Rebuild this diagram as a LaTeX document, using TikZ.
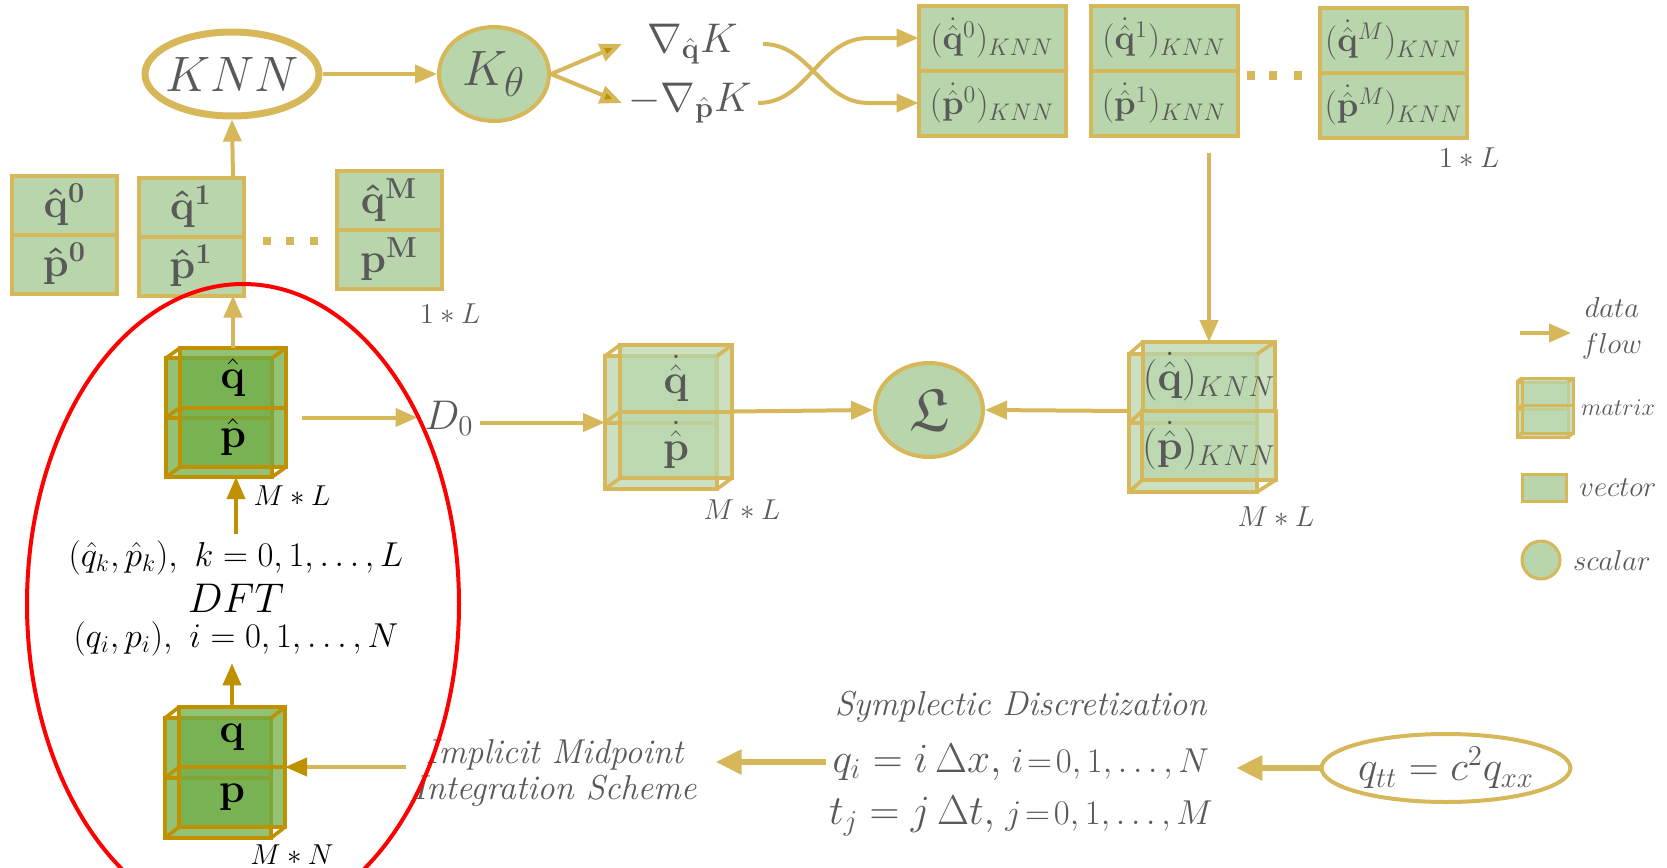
\documentclass[tikz,border=0pt]{standalone}
\usepackage{amsmath}
\usepackage{amssymb}
\usepackage{tikz}
\usetikzlibrary{arrows.meta, positioning, shapes.geometric}

\definecolor{linegold}{RGB}{214,183,90}
\definecolor{darkgold}{RGB}{191,144,0}
\definecolor{boxgreen}{RGB}{184,213,171}
\definecolor{matgreen}{RGB}{112,173,71}
\definecolor{textgray}{RGB}{89,89,89}

\begin{document}
\begin{tikzpicture}[x=0.5pt, y=-0.5pt, >={Triangle[length=11pt, width=9pt]},
  vec/.style={draw=linegold, fill=boxgreen, line width=2pt, inner sep=0pt, outer sep=0pt, text=textgray},
  kvec/.style={vec, minimum width=73.5pt, minimum height=32.5pt, font=\LARGE},
  hvec/.style={vec, minimum width=52.5pt, minimum height=29.5pt, font=\huge},
  lmat/.style={draw=linegold, fill=boxgreen, fill opacity=0.75, text opacity=1, line width=2pt, inner sep=0pt, outer sep=0pt, text=textgray, font=\huge},
  dmat/.style={draw=darkgold, fill=matgreen, fill opacity=0.75, text opacity=1, line width=2pt, inner sep=0pt, outer sep=0pt, font=\huge},
  scalar/.style={ellipse, draw=linegold, fill=boxgreen, line width=2pt, inner sep=0pt, text=textgray, font=\huge},
  flow/.style={->, draw=linegold, line width=2pt},
  dflow/.style={->, draw=darkgold, line width=2pt},
  lbl/.style={text=textgray, font=\Large},
  bigtxt/.style={text=textgray, font=\LARGE}]
\useasboundingbox (0,0) rectangle (1667,868);
\clip (0,0) rectangle (1667,868);

\node[ellipse, draw=linegold, line width=3.5pt, inner xsep=-8pt, inner ysep=0pt, minimum width=87pt, minimum height=42pt, text=textgray, font={\fontsize{32}{38}\selectfont}] (knn) at (232,74) {$KNN$};
\node[scalar, minimum width=55pt, minimum height=47pt, font=\Huge] (kt) at (494,74) {$K_\theta$};
\node[anchor=west, inner xsep=12.5pt, text=textgray, font=\huge] (gq) at (622,44) {$\nabla_{\hat{\mathbf{q}}}K$};
\node[anchor=west, inner xsep=3pt, text=textgray, font=\huge] (gp) at (622,103) {$-\nabla_{\hat{\mathbf{p}}}K$};

\node[kvec] (qd0) at (992,38) {$(\dot{\hat{\mathbf{q}}}^{0})_{KNN}$};
\node[kvec, below=0pt of qd0] (pd0) {$(\dot{\hat{\mathbf{p}}}^{0})_{KNN}$};
\node[kvec] (qd1) at (1164,38) {$(\dot{\hat{\mathbf{q}}}^{1})_{KNN}$};
\node[kvec, below=0pt of qd1] (pd1) {$(\dot{\hat{\mathbf{p}}}^{1})_{KNN}$};
\node[kvec] (qdM) at (1393.5,40) {$(\dot{\hat{\mathbf{q}}}^{M})_{KNN}$};
\node[kvec, below=0pt of qdM] (pdM) {$(\dot{\hat{\mathbf{p}}}^{M})_{KNN}$};
\foreach \x in {1251,1273,1298} \fill[linegold] (\x-4,71) rectangle (\x+4,80);
\node[lbl] (top1L) at (1469,158) {$1*L$};

\node[hvec] (qh0) at (64.5,205) {$\mathbf{\hat{q}^{0}}$};
\node[hvec, below=0pt of qh0] (ph0) {$\mathbf{\hat{p}^{0}}$};
\node[hvec] (qh1) at (191,207) {$\mathbf{\hat{q}^{1}}$};
\node[hvec, below=0pt of qh1] (ph1) {$\mathbf{\hat{p}^{1}}$};
\node[hvec] (qhM) at (389,200.5) {$\mathbf{\hat{q}^{M}}$};
\node[hvec, below=0pt of qhM] (phM) {$\mathbf{p^{M}}$};
\foreach \x in {267,290,314} \fill[linegold] (\x-4,237) rectangle (\x+4,245);
\node[lbl] (left1L) at (450,314) {$1*L$};

\node[dmat, minimum width=53pt, minimum height=29.75pt] (qhb1) at (219,387.75) {};
\node[dmat, minimum width=53pt, minimum height=29.75pt, below=0pt of qhb1] (qhb2) {};
\node[dmat, minimum width=53pt, minimum height=29.75pt] (qhf1) at (233,377.75) {$\hat{\mathbf{q}}$};
\node[dmat, minimum width=53pt, minimum height=29.75pt, below=0pt of qhf1] (qhf2) {$\hat{\mathbf{p}}$};
\node[font=\Large] (qhsize) at (292,496) {$M*L$};

\node[font={\fontsize{18.5}{22}\selectfont}] (dftk) at (236,558) {$(\hat{q}_k,\hat{p}_k),\ k=0,1,\ldots,L$};
\node[font=\huge] (dft) at (236,598) {$DFT$};
\node[font={\fontsize{18.5}{22}\selectfont}] (dfti) at (236,639) {$(q_i,p_i),\ i=0,1,\ldots,N$};

\node[dmat, minimum width=53pt, minimum height=30pt] (qb1) at (218,748) {};
\node[dmat, minimum width=53pt, minimum height=30pt, below=0pt of qb1] (qb2) {};
\node[dmat, minimum width=53pt, minimum height=30pt] (qf1) at (232,737) {$\mathbf{q}$};
\node[dmat, minimum width=53pt, minimum height=30pt, below=0pt of qf1] (qf2) {$\mathbf{p}$};
\node[font=\Large] (qsize) at (292,855) {$M*N$};

\node[text=textgray, font=\huge] (d0) at (449,418) {$D_0$};

\node[lmat, minimum width=56pt, minimum height=33.25pt] (qdb1) at (661,389.25) {};
\node[lmat, minimum width=56pt, minimum height=33.25pt, below=0pt of qdb1] (qdb2) {};
\node[lmat, minimum width=56pt, minimum height=33.25pt] (qdf1) at (676,378.25) {$\dot{\hat{\mathbf{q}}}$};
\node[lmat, minimum width=56pt, minimum height=33.25pt, below=0pt of qdf1] (qdf2) {$\dot{\hat{\mathbf{p}}}$};
\node[lbl] (qdsize) at (742,510) {$M*L$};

\node[scalar, minimum width=54pt, minimum height=47pt, font={\fontsize{30}{36}\selectfont}] (loss) at (929,410) {$\mathfrak{L}$};

\node[lmat, minimum width=64pt, minimum height=34.5pt] (kdb1) at (1193,388.5) {};
\node[lmat, minimum width=64pt, minimum height=34.5pt, below=0pt of kdb1] (kdb2) {};
\node[lmat, minimum width=64pt, minimum height=34.5pt] (kdf1) at (1209,376.5) {$(\dot{\hat{\mathbf{q}}})_{KNN}$};
\node[lmat, minimum width=64pt, minimum height=34.5pt, below=0pt of kdf1] (kdf2) {$(\dot{\hat{\mathbf{p}}})_{KNN}$};
\node[lbl] (kdsize) at (1276,517) {$M*L$};

\node[bigtxt, align=center] (imp) at (555,773) {\textit{Implicit Midpoint}\\[-4pt]\textit{Integration Scheme}};
\node[bigtxt] (symp) at (1021,707) {\textit{Symplectic Discretization}};
\node[bigtxt] (qi) at (1021,762) {{\huge$q_i=i\,\Delta x,$}\ $i\!=\!0,1,\ldots,N$};
\node[bigtxt] (tj) at (1021,816) {{\huge$t_j=j\,\Delta t,$}\ $j\!=\!0,1,\ldots,M$};
\node[ellipse, draw=linegold, line width=2pt, minimum width=117pt, minimum height=34pt, inner sep=0pt, text=textgray, font=\huge] (eq) at (1446,768) {$q_{tt}=c^2q_{xx}$};

\coordinate (la) at (1520,333);
\coordinate (lb) at (1571,333);
\node[lbl, align=center] (ldata) at (1612,328) {$data$\\$flow$};
\node[lmat, line width=1.5pt, minimum width=25.5pt, minimum height=13.75pt] (lmb1) at (1542.5,395.75) {};
\node[lmat, line width=1.5pt, minimum width=25.5pt, minimum height=13.75pt, below=0pt of lmb1] (lmb2) {};
\node[lmat, line width=1.5pt, minimum width=25.5pt, minimum height=13.75pt] (lmf1) at (1547.5,391.75) {};
\node[lmat, line width=1.5pt, minimum width=25.5pt, minimum height=13.75pt, below=0pt of lmf1] (lmf2) {};
\node[lbl, font=\large] (lmat) at (1618,408) {$matrix$};
\node[vec, line width=1.5pt, minimum width=22pt, minimum height=13.5pt] (lvec) at (1544,488) {};
\node[lbl] (lvectxt) at (1618,488) {$vector$};
\node[scalar, line width=1.5pt, minimum size=19pt] (lsc) at (1541,560) {};
\node[lbl] (lsctxt) at (1612,560) {$scalar$};

\foreach \m/\c in {qh/darkgold, q/darkgold, qd/linegold, kd/linegold, lm/linegold}
  \draw[\c, line width=1.8pt] (\m b1.north west) -- (\m f1.north west) (\m b2.north west) -- (\m f2.north west)
    (\m b2.south west) -- (\m f2.south west) (\m b1.north east) -- (\m f1.north east) (\m b2.south east) -- (\m f2.south east);

\draw[flow] (knn.east) -- (kt.west);
\draw[flow, -{Triangle[length=11pt, width=9pt, fill=darkgold]}] (kt.east) -- (gq.west);
\draw[flow, -{Triangle[length=11pt, width=9pt, fill=darkgold]}] (kt.east) -- (gp.west);
\draw[flow] (gq.east) to[out=0, in=180] ([xshift=-25pt]pd0.west) -- (pd0.west);
\draw[flow] (gp.east) to[out=0, in=180] ([xshift=-25pt]qd0.west) -- (qd0.west);
\draw[flow] ([yshift=-8.5pt]kdf1.north |- pd1.south) -- (kdf1.north);
\draw[flow] (qhf1.north |- qh1.north) -- (knn.south);
\draw[flow] (qhf1.north) -- (qhf1.north |- ph1.south);
\draw[dflow] (dftk.north) -- (qhb2.south -| dftk.north);
\draw[dflow] (qf1.north) -- (qf1.north |- dfti.south);
\draw[flow, -{Triangle[length=11pt, width=9pt, color=darkgold]}] (imp.west |- qf1.south east) -- (qf1.south east);
\draw[flow, line width=3pt, shorten >=6pt, -{Triangle[length=13pt, width=12pt]}] (qi.west) -- (qi.west -| imp.east);
\draw[flow, line width=3pt, shorten >=10pt, -{Triangle[length=13pt, width=12pt]}] (eq.west) -- (eq.west -| qi.east);
\draw[flow] ([xshift=8pt]qhf2.east |- qhb1.south) -- (d0.west |- qhb1.south);
\draw[flow] (d0.east |- qdb1.south) -- (qdb1.south west);
\draw[flow] (qdf1.south east) -- (loss.west);
\draw[flow] (kdb1.west |- kdf1.south) -- (loss.east);
\draw[flow] (la) -- (lb);

\draw[red, line width=2pt] (243,604) ellipse [x radius=108pt, y radius=160pt];
\end{tikzpicture}
\end{document}
